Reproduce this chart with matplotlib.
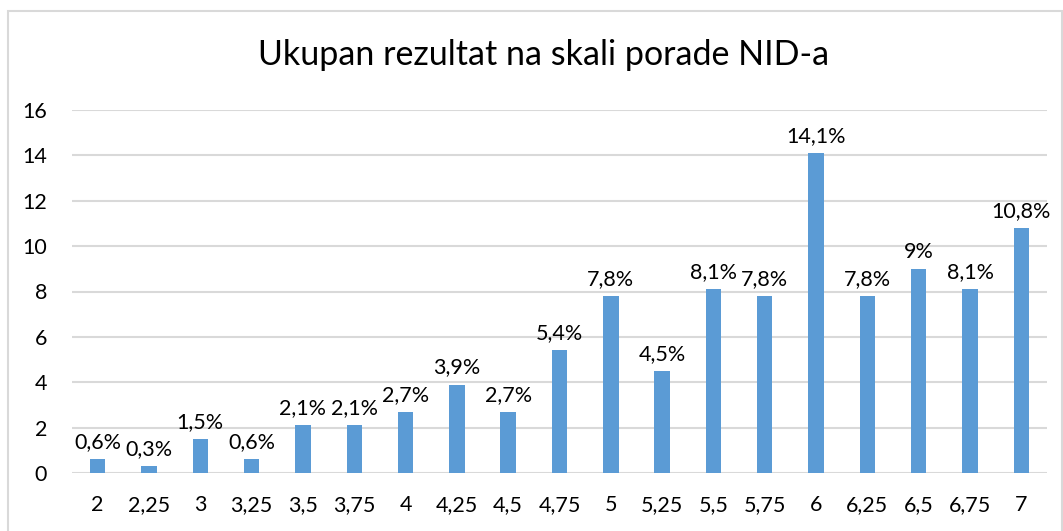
import matplotlib.pyplot as plt
import matplotlib.patches as patches
import numpy as np

# Data
categories = ["2", "2,25", "3", "3,25", "3,5", "3,75", "4", "4,25", "4,5", "4,75",
              "5", "5,25", "5,5", "5,75", "6", "6,25", "6,5", "6,75", "7"]
values = [0.6, 0.3, 1.5, 0.6, 2.1, 2.1, 2.7, 3.9, 2.7, 5.4,
          7.8, 4.5, 8.1, 7.8, 14.1, 7.8, 9, 8.1, 10.8]
yticks = [0, 2, 4, 6, 8, 10, 12, 14, 16]

plt.rcParams['font.family'] = ['Lato', 'DejaVu Sans']

W, H = 1063, 531
fig = plt.figure(figsize=(W / 100, H / 100), dpi=100)
ax = fig.add_axes([72 / W, 1 - 473 / H, (1047 - 72) / W, (473 - 110) / H])

x = np.arange(len(categories))
ax.bar(x, values, width=0.3, color='#5B9BD5', zorder=3)

# Data labels
for xi, v in zip(x, values):
    txt = ('%g' % v).replace('.', ',') + '%'
    ax.annotate(txt, (xi, v), xytext=(0, 5), textcoords='offset points',
                ha='center', va='bottom', fontsize=15.5, color='#000000')

ax.set_xlim(-0.5, len(categories) - 0.5)
ax.set_ylim(0, 16)
ax.set_yticks(yticks)
ax.set_yticklabels([str(t) for t in yticks], fontsize=15.5)
ax.set_xticks(x)
ax.set_xticklabels(categories, fontsize=15.5)
ax.tick_params(axis='both', length=0, colors='#000000')
ax.tick_params(axis='x', pad=16)
ax.tick_params(axis='y', pad=18)
ax.yaxis.grid(True, color='#D9D9D9', linewidth=1.5, zorder=0)
for s in ax.spines.values():
    s.set_visible(False)

fig.text(544 / W, 1 - 55 / H, "Ukupan rezultat na skali porade NID-a",
         ha='center', va='center', fontsize=24.5, color='#000000')

# Chart area border
border = patches.Rectangle((8 / W, -0.1), (1062 - 8) / W, 1.1 - 11 / H,
                           transform=fig.transFigure, fill=False,
                           edgecolor='#D9D9D9', linewidth=1.5, clip_on=False)
fig.patches.append(border)

fig.savefig('out.png', dpi=100)
